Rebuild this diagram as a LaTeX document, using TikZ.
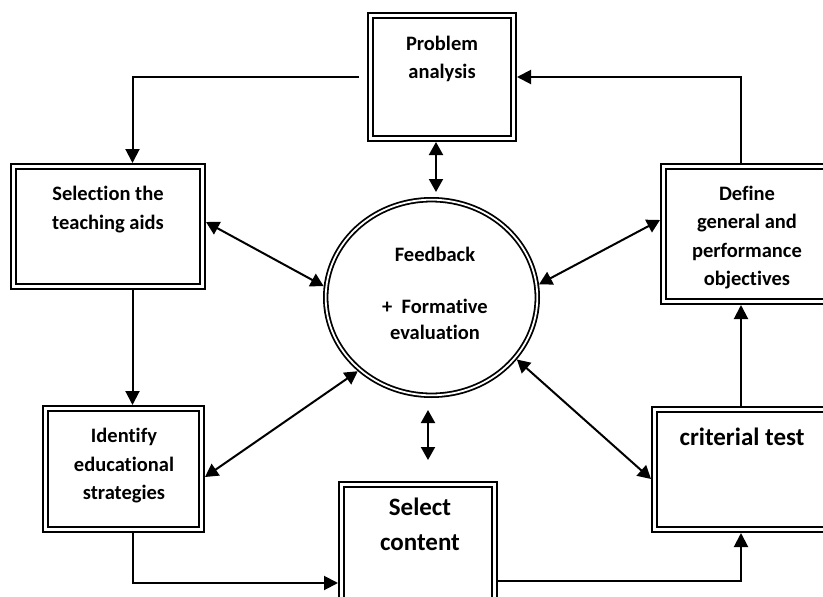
\documentclass[tikz,border=0pt]{standalone}
\usepackage{fontspec}
\setmainfont{Carlito}[Ligatures={NoCommon}]
\usetikzlibrary{arrows.meta,shapes.geometric}
\begin{document}
\begin{tikzpicture}[x=1pt,y=-1pt,
  box/.style={draw, double, line width=2.4pt, double distance=2.2pt, inner sep=0pt, outer sep=3.5pt, rectangle},
  oval/.style={draw, double, ellipse, line width=1.8pt, double distance=1.8pt, inner sep=0pt, outer sep=2.7pt},
  arr/.style={line width=2pt, -{Triangle[length=14pt,width=14pt]}},
  darr/.style={line width=2pt, {Triangle[length=13pt,width=14pt]}-{Triangle[length=13pt,width=14pt]}},
  txt/.style={align=center, inner sep=0pt, anchor=north, font=\bfseries\fontsize{20.5}{28.5}\selectfont},
  bigtxt/.style={align=center, inner sep=0pt, anchor=north, font=\bfseries\fontsize{25}{35}\selectfont}]
\useasboundingbox (0,0) rectangle (823,597);
% boxes
\node[box, minimum width=143pt, minimum height=123pt] (pa) at (442,77) {};
\node[box, minimum width=189pt, minimum height=120pt] (sel) at (108,226.5) {};
\node[box, minimum width=156pt, minimum height=121pt] (id) at (123.5,469) {};
\node[box, minimum width=153pt, minimum height=121pt] (sc) at (418,545) {};
\node[box, minimum width=175pt, minimum height=120pt] (crit) at (742,469.5) {};
\node[box, minimum width=167pt, minimum height=135pt] (def) at (747,234) {};
\node[oval, minimum width=211.6pt, minimum height=195.6pt] (fb) at (431.5,297.5) {};
% texts
\node[txt] (tpa) at (442,35.5) {Problem\\analysis};
\node[txt] (tsel) at (108,186) {Selection the\\teaching aids};
\node[txt] (tdef) at (747,185.5) {Define\\general and\\performance\\objectives};
\node[txt] (tid) at (124,428) {Identify\\educational\\strategies};
\node[bigtxt] (tsc) at (420,497.5) {Select\\content};
\node[bigtxt] (tcrit) at (742,427.5) {criterial test};
\node[txt, font=\bfseries\fontsize{20.5}{26}\selectfont] (tfb) at (435,247) {Feedback\\[26pt]+\ \ Formative\\evaluation};
% cycle connectors
\draw[arr, shorten <=8pt] (pa.west) -| ([xshift=24.5pt]sel.north);
\draw[arr] ([xshift=24.5pt]sel.south) -- ([xshift=9pt]id.north);
\draw[arr] ([xshift=9pt]id.south) |- ([yshift=-38pt]sc.west);
\draw[arr] ([yshift=-36pt]sc.east) -| ([xshift=-1pt]crit.south);
\draw[arr] ([xshift=-1pt]crit.north) -- ([xshift=-6pt]def.south);
\draw[arr] ([xshift=-6pt]def.north) |- (pa.east);
% feedback connectors
\draw[darr] ([xshift=-6pt]pa.south) -- ([xshift=4.5pt,yshift=5pt]fb.north);
\draw[darr] ([yshift=4.5pt]sel.east) -- (fb.174);
\draw[darr] (fb.7) -- ([yshift=14pt]def.west);
\draw[darr] ([yshift=-8pt]id.east) -- (fb.225);
\draw[darr] (fb.324) -- ([yshift=-9.5pt]crit.west);
\coordinate (fa) at (428,410);
\coordinate (fz) at (428,460);
\draw[darr] (fa) -- (fz);
\end{tikzpicture}
\end{document}
